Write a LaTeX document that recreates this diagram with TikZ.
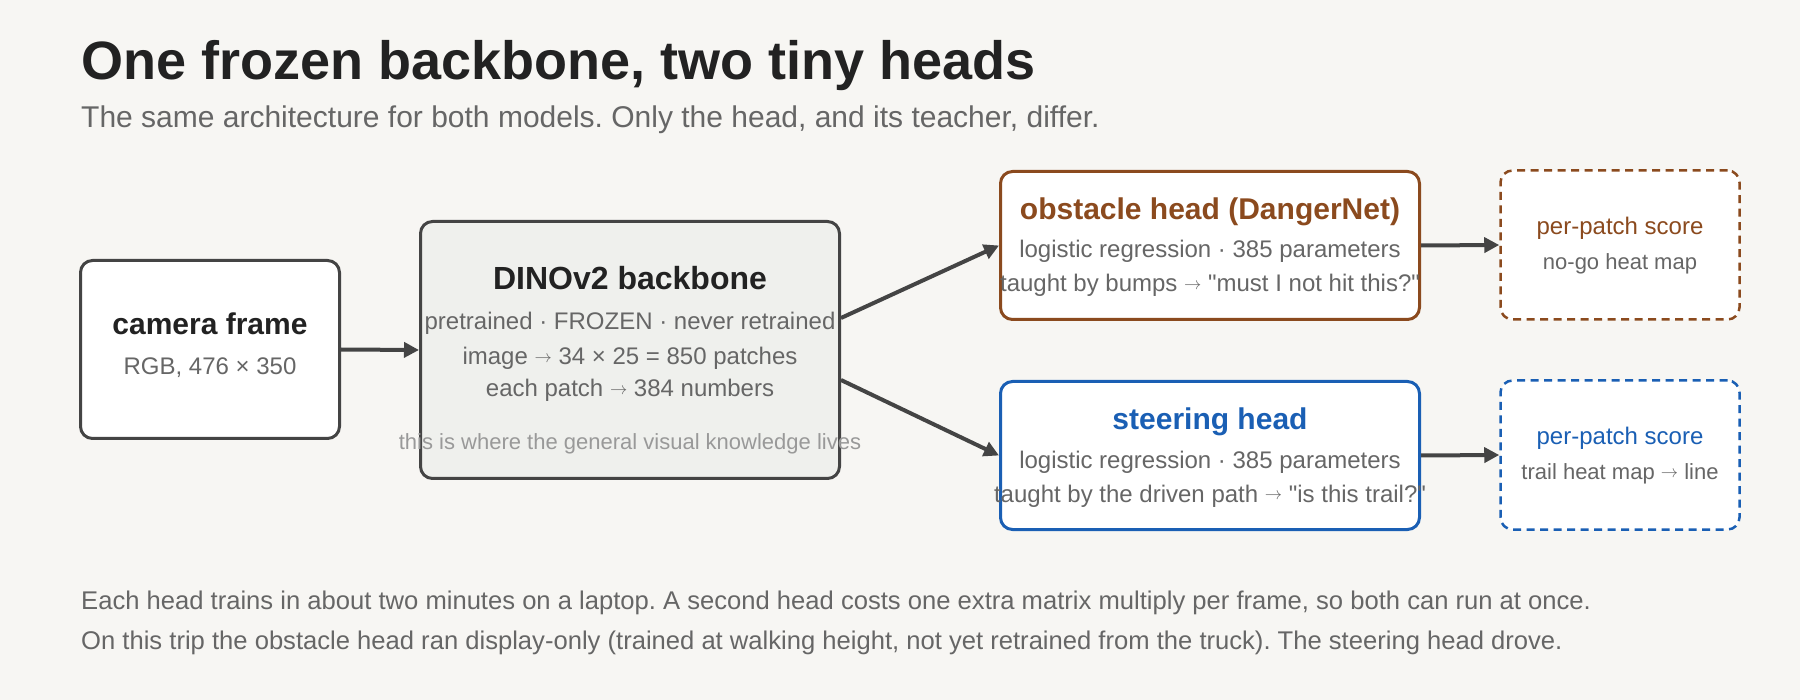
\documentclass[tikz,border=0pt]{standalone}
\usepackage{fontspec}
\usepackage{graphicx}
\setmainfont{Liberation Sans}[Ligatures=TeXOff]
\usetikzlibrary{arrows.meta}
\definecolor{bgc}{HTML}{F7F6F3}
\definecolor{ink}{HTML}{222222}
\definecolor{strokec}{HTML}{444444}
\definecolor{subc}{HTML}{666666}
\definecolor{notec}{HTML}{999999}
\definecolor{obsbrown}{HTML}{8B4A1E}
\definecolor{steerblue}{HTML}{1A5FB4}
\definecolor{dinofill}{HTML}{EFF0ED}
\newcommand{\fs}[1]{\fontsize{#1}{#1}\selectfont}
\newcommand{\rarr}{{\fs{18}\raisebox{2.5pt}{$\rightarrow$}}}
\frenchspacing
\begin{document}
\begin{tikzpicture}[x=1pt,y=-1pt,
  box/.style={draw=strokec, line width=3pt, rounded corners=12pt, fill=white, inner sep=0pt},
  dbox/.style={line width=2.5pt, rounded corners=12pt, fill=white, inner sep=0pt, dash pattern=on 8pt off 5.5pt},
  ttl/.style={anchor=base, inner sep=0pt, font=\fs{30}\bfseries},
  txt/.style={anchor=base, inner sep=0pt, font=\fs{24}, text=subc},
  arr/.style={draw=strokec, line width=4pt, -{Triangle[length=15pt,width=15pt]}}
]
\fill[bgc] (0,0) rectangle (1800,700);
\useasboundingbox (0,0) rectangle (1800,700);

% title
\node[anchor=base west, inner sep=0pt, font=\fs{54}\bfseries, text=ink] (title) at (81,80) {One frozen backbone, two tiny heads};
\node[anchor=base west, inner sep=0pt, font=\fs{30}, text=subc] (subtitle) at (81,128) {The same architecture for both models. Only the head, and its teacher, differ.};

% boxes
\node[box, minimum width=259pt, minimum height=178pt] (cam) at (210,349.5) {};
\node[box, fill=dinofill, minimum width=419pt, minimum height=257pt] (dino) at (630,350) {};
\node[box, draw=obsbrown, minimum width=419pt, minimum height=148pt] (obs) at (1210,245.5) {};
\node[box, draw=steerblue, minimum width=419pt, minimum height=148pt] (steer) at (1210,455.5) {};
\node[dbox, draw=obsbrown, minimum width=239pt, minimum height=149pt] (sobs) at (1620,245) {};
\node[dbox, draw=steerblue, minimum width=239pt, minimum height=149pt] (ssteer) at (1620,455) {};

% camera text
\node[ttl, text=ink] (camT) at (210,335) {camera frame};
\node[txt] (camS) at (210,375) {RGB, 476 × 350};

% dino text
\node[ttl, text=ink, font=\fs{32}\bfseries] (dinoT) at (630,290) {DINOv2 backbone};
\node[txt] (dinoA) at (630,330) {pretrained · FROZEN · never retrained};
\node[txt] (dinoB) at (630,365) {image \rarr{} 34 × 25 = 850 patches};
\node[txt] (dinoC) at (630,397) {each patch \rarr{} 384 numbers};
\node[txt, font=\fs{22}, text=notec] (dinoN) at (630,450) {this is where the general visual knowledge lives};

% obstacle head text
\node[ttl, text=obsbrown] (obsT) at (1210,220) {obstacle head (DangerNet)};
\node[txt] (obsA) at (1210,258) {logistic regression · 385 parameters};
\node[txt] (obsB) at (1210,292) {taught by bumps \rarr{} "must I not hit this?"};

% steering head text
\node[ttl, text=steerblue] (steerT) at (1210,430) {steering head};
\node[txt] (steerA) at (1210,468) {logistic regression · 385 parameters};
\node[txt] (steerB) at (1210,502) {taught by the driven path \rarr{} "is this trail?"};

% score boxes text
\node[txt, text=obsbrown] (sobsT) at (1620,235) {per-patch score};
\node[txt, font=\fs{22}] (sobsS) at (1620,270) {no-go heat map};
\node[txt, text=steerblue] (ssteerT) at (1620,445) {per-patch score};
\node[txt, font=\fs{22}] (ssteerS) at (1620,480) {trail heat map \rarr{} line};

% arrows
\draw[arr] (cam.east) -- (dino.west);
\draw[arr] ([yshift=32pt]dino.east) -- (obs.west);
\draw[arr] ([yshift=-30pt]dino.east) -- (steer.west);
\draw[arr] (obs.east) -- (sobs.west);
\draw[arr] (steer.east) -- (ssteer.west);

% footer
\node[anchor=base west, inner sep=0pt, font=\fs{25.6}, text=subc] (foot1) at (81,609) {Each head trains in about two minutes on a laptop. A second head costs one extra matrix multiply per frame, so both can run at once.};
\node[anchor=base west, inner sep=0pt, font=\fs{25.6}, text=subc] (foot2) at (81,649) {On this trip the obstacle head ran display-only (trained at walking height, not yet retrained from the truck). The steering head drove.};
\end{tikzpicture}
\end{document}
